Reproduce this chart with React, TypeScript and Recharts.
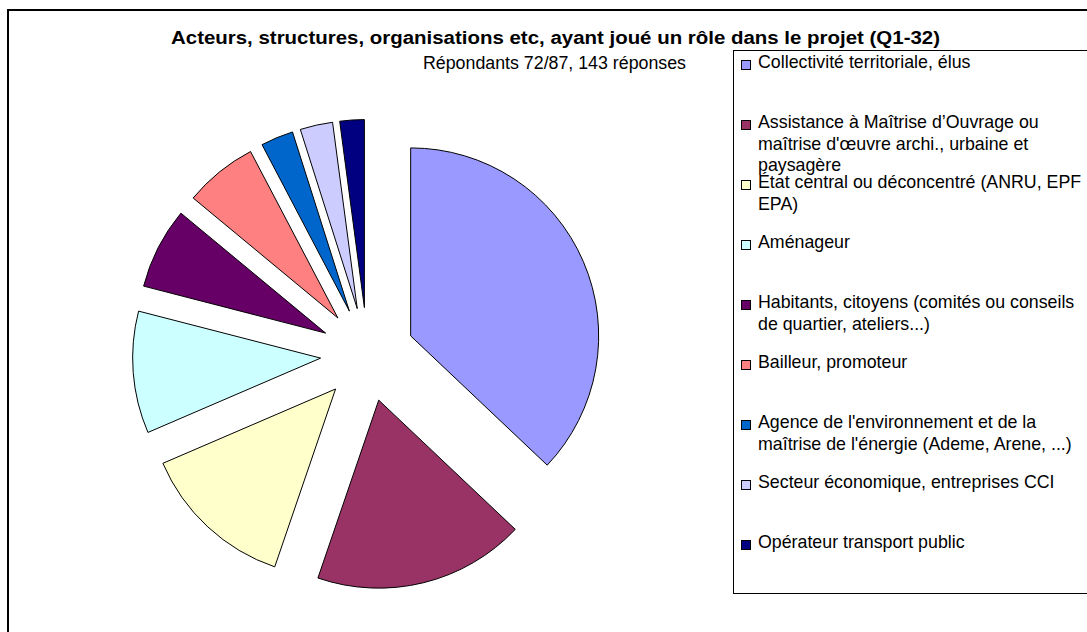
import { Legend, Pie, PieChart, Sector } from "recharts";

// Q1-32 : acteurs ayant joué un rôle dans le projet (143 réponses)
const ACTORS = [
  "Collectivité territoriale, élus",
  "Assistance à Maîtrise d’Ouvrage ou\nmaîtrise d'œuvre archi., urbaine et\npaysagère",
  "État central ou déconcentré (ANRU, EPF\nEPA)",
  "Aménageur",
  "Habitants, citoyens (comités ou conseils\nde quartier, ateliers...)",
  "Bailleur, promoteur",
  "Agence de l'environnement et de la\nmaîtrise de l'énergie (Ademe, Arene, ...)",
  "Secteur économique, entreprises CCI",
  "Opérateur transport public",
];
const ANSWERS = [53, 26, 19, 15, 10, 9, 4, 4, 3];
const COLORS = [
  "#9999FF",
  "#993366",
  "#FFFFCC",
  "#CCFFFF",
  "#660066",
  "#FF8080",
  "#0066CC",
  "#CCCCFF",
  "#000080",
];
const TITLE = "Acteurs, structures, organisations etc, ayant joué un rôle dans le projet (Q1-32)";
const SUBTITLE = "Répondants 72/87, 143 réponses";

const data = ACTORS.map((name, i) => ({ name, value: ANSWERS[i], fill: COLORS[i] }));

const FONT = '"Liberation Sans", Arial, sans-serif';
const EXPLODE = 47;
const RAD = Math.PI / 180;

function ExplodedSlice(props: any) {
  const { cx, cy, midAngle, innerRadius, outerRadius, startAngle, endAngle, fill } = props;
  const dx = EXPLODE * Math.cos(-midAngle * RAD);
  const dy = EXPLODE * Math.sin(-midAngle * RAD);
  return (
    <Sector
      cx={cx + dx}
      cy={cy + dy}
      innerRadius={innerRadius}
      outerRadius={outerRadius}
      startAngle={startAngle}
      endAngle={endAngle}
      fill={fill}
      stroke="#000"
      strokeWidth={1}
    />
  );
}

function LegendBox() {
  return (
    <div
      style={{
        width: 400,
        height: 544,
        border: "1px solid #000",
        boxSizing: "border-box",
        background: "#fff",
        paddingTop: 1,
        fontFamily: FONT,
        fontSize: 17.8,
        color: "#000",
      }}
    >
      {ACTORS.map((name, i) => (
        <div key={name} style={{ position: "relative", height: 60 }}>
          <div
            style={{
              position: "absolute",
              left: 7,
              top: 8,
              width: 10,
              height: 10,
              border: "1px solid #000",
              boxSizing: "border-box",
              background: COLORS[i],
            }}
          />
          <div
            style={{
              position: "absolute",
              left: 24,
              top: 0,
              lineHeight: "21.7px",
              whiteSpace: "pre",
            }}
          >
            {name}
          </div>
        </div>
      ))}
    </div>
  );
}

export default function App() {
  return (
    <div
      style={{
        position: "absolute",
        left: 0,
        top: 0,
        width: 1087,
        height: 632,
        overflow: "hidden",
        background: "#fff",
        fontFamily: FONT,
      }}
    >
      <div
        style={{
          position: "absolute",
          left: 7,
          top: 9,
          width: 1200,
          height: 700,
          border: "2px solid #000",
        }}
      />
      <PieChart width={1087} height={632} margin={{ top: 0, right: 0, bottom: 0, left: 0 }}>
        <text
          x={555.5}
          y={44}
          textAnchor="middle"
          fontFamily={FONT}
          fontWeight="bold"
          fontSize={17.5}
          textLength={769}
          lengthAdjust="spacingAndGlyphs"
          fill="#000"
        >
          {TITLE}
        </text>
        <text
          x={554.5}
          y={68.5}
          textAnchor="middle"
          fontFamily={FONT}
          fontSize={17.5}
          textLength={263}
          lengthAdjust="spacingAndGlyphs"
          fill="#000"
        >
          {SUBTITLE}
        </text>
        <Pie
          data={data}
          dataKey="value"
          nameKey="name"
          cx={367.5}
          cy={354.5}
          outerRadius={188}
          startAngle={90}
          endAngle={-270}
          stroke="#000"
          strokeWidth={1}
          shape={ExplodedSlice}
          isAnimationActive={false}
        />
        <Legend
          content={() => <LegendBox />}
          wrapperStyle={{ position: "absolute", left: 733, top: 50, width: 400 }}
        />
      </PieChart>
    </div>
  );
}
